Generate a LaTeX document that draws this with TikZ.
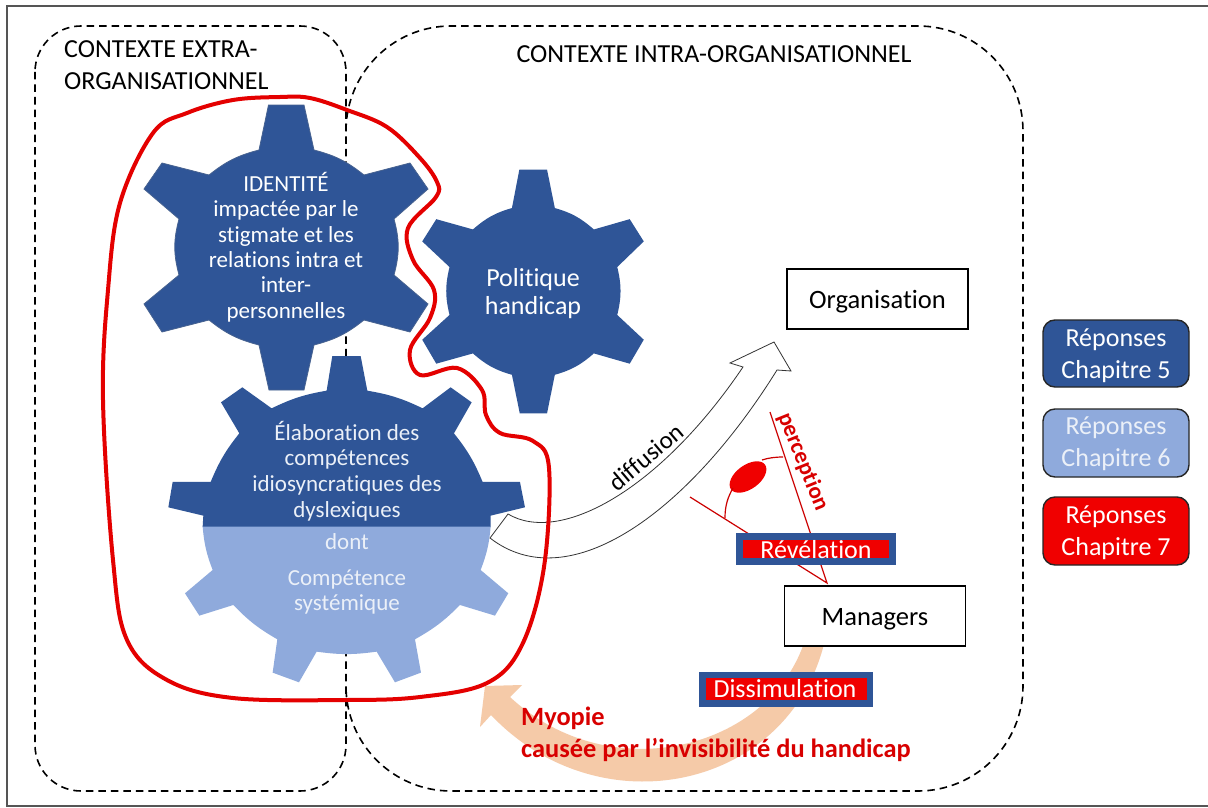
\documentclass[tikz,border=0pt]{standalone}
\usepackage{fontspec}
\setmainfont{Carlito}[Ligatures=NoCommon]
\usetikzlibrary{calc}

\definecolor{bleuFonce}{HTML}{2F5597}
\definecolor{bleuClair}{HTML}{8FAADC}
\definecolor{texteClair}{HTML}{EBF0F8}
\definecolor{peche}{HTML}{F5CAA8}
\definecolor{rouge}{HTML}{F00000}
\definecolor{cadre}{HTML}{555555}

\tikzset{
  zone/.style={draw=black,line width=1.6pt,dash pattern=on 7.5pt off 5pt},
  etiquette/.style={font=\fontsize{26}{32}\selectfont,align=center,inner sep=0pt},
  dansRoue/.style={etiquette,text=white,font=\fontsize{23}{25.4}\selectfont},
  dansRoueClair/.style={etiquette,text=texteClair,font=\fontsize{23}{25.6}\selectfont},
  boite/.style={draw=black,line width=1.8pt,minimum width=181pt,minimum height=60pt},
  titreBoite/.style={etiquette,font=\fontsize{26.5}{30}\selectfont},
  legende/.style={draw=black!85,line width=1.4pt,rounded corners=12pt,minimum width=146pt,minimum height=68pt},
  bandeau/.style={etiquette,text=white,font=\fontsize{26}{30}\selectfont},
  traitRouge/.style={draw=rouge!85!black,line width=1.2pt},
}

% roue dentee a six dents, autour de (0,0)
\newcommand{\rouedentee}{(-17.5,-142) -- (18,-142) -- (28,-97) to[bend left=12] (78,-72)
  -- (124,-84) -- (142,-58) -- (108,-28) to[bend left=15] (108,28)
  -- (142,57) -- (124,85) -- (78,73) to[bend left=12] (28,98)
  -- (18,143) -- (-17,143) -- (-27,98) to[bend left=12] (-77,73)
  -- (-124,85) -- (-142,57) -- (-107,28) to[bend left=15] (-107,-28)
  -- (-142,-58) -- (-124,-84) -- (-77,-72) to[bend left=12] (-27,-97) -- cycle}

\begin{document}
\begin{tikzpicture}[x=1pt,y=-1pt]
    \useasboundingbox (0,0) rectangle (1208,808);
    \fill[white] (0,0) rectangle (1208,808);

    % Cadre
    \draw[cadre,line width=1.3pt] (1208,6) -- (7,6) -- (7,806) -- (1208,806);

    % Contextes
    \draw[zone,rounded corners=46pt] (35,26) rectangle (346,791);
    \draw[zone,rounded corners=105pt] (346,131) -- (346,26) -- (1023,26) -- (1023,791) -- (346,791) -- (346,686);
    \node[etiquette,anchor=north west,align=left] (extra) at (64,40) {CONTEXTE EXTRA-\\ORGANISATIONNEL};
    \node[etiquette] (intra) at (714,54) {CONTEXTE INTRA-ORGANISATIONNEL};

    % Roue identite
    \begin{scope}[shift={(286,247)}]
    \fill[bleuFonce,draw=bleuFonce!70!gray,line width=.8pt] \rouedentee;
    \end{scope}
    \node[dansRoue] (identite) at (286,247) {IDENTITÉ\\impactée par le\\stigmate et les\\relations intra et\\inter-\\personnelles};

    % Roue politique
    \begin{scope}[shift={(533,291)},xscale=.78,yscale=.855]
    \fill[bleuFonce] \rouedentee;
    \end{scope}
    \node[dansRoue,font=\fontsize{26}{28}\selectfont] (politique) at (533,294) {Politique\\handicap};

    % Roue competences, en deux moities
    \begin{scope}[shift={(120,350)},x=.3333pt,y=-.3333pt]
    \fill[bleuFonce] (248,531) -- (250,497) -- (145,472) -- (158,396) -- (272,396) to[bend left=8] (358,250)
      -- (303,157) -- (367,112) -- (455,175) to[bend left=8] (620,122) -- (637,18) -- (722,18) -- (742,122)
      to[bend left=8] (908,175) -- (992,112) -- (1055,157) -- (1002,250) to[bend left=8] (1088,396)
      -- (1200,396) -- (1215,472) -- (1112,497) -- (1112,531) -- cycle;
    \fill[bleuClair] (248,530) to[bend right=8] (278,660) -- (195,730) -- (238,797) -- (340,765)
      to[bend right=8] (472,868) -- (458,968) -- (537,997) -- (590,905) to[bend right=8] (770,905)
      -- (825,997) -- (903,968) -- (885,868) to[bend right=8] (1020,765) -- (1125,797) -- (1165,730)
      -- (1082,660) to[bend right=8] (1112,530) -- cycle;
    \end{scope}
    \node[dansRoueClair] (elaboration) at (347,471) {Élaboration des\\compétences\\idiosyncratiques des\\dyslexiques};
    \node[dansRoueClair] (dont) at (347,542) {dont};
    \node[dansRoueClair] (systemique) at (347,592) {Compétence\\systémique};

    % Fleche de diffusion
    \draw[fill=white,draw=black!80,line width=.8pt] (508,514) .. controls (560,545) and (660,490) .. (743,367)
      -- (730,363) -- (774,342) -- (791,371) -- (777,370)
      .. controls (690,510) and (570,600) .. (490,538) -- cycle;
    \node[etiquette,rotate=40,font=\fontsize{25}{26}\selectfont] (diffusion) at (646,457) {diffusion};

    % Fleche de la myopie
    \fill[peche] (825,640) .. controls (790,790) and (600,830) .. (491,715) -- (480,727) -- (485,686)
      -- (522,685) -- (510,697) .. controls (610,790) and (770,750) .. (805,640) -- cycle;

    % Contour rouge
    \draw[rouge!95!black,line width=4pt] plot[smooth cycle,tension=.6] coordinates {(280,97) (310,98) (347,110) (387,127) (420,158) (437,182) (436,197)
      (408,228) (413,260) (434,290) (430,318) (410,350) (420,375) (457,368) (482,390) (486,415) (500,433) (533,441) (549,468)
      (544,567) (522,645) (487,683) (420,697) (347,700) (233,698) (167,680) (127,640) (113,560) (103,400) (108,290) (120,203) (153,133) (187,113) (233,100)};

    % Oeil
    \draw[traitRouge] (690,497) -- (827,583) -- (770,412);
    \fill[rouge,rotate around={36:(748,477)}] (748,477) ellipse (21 and 12);
    \draw[traitRouge] (725,518) .. controls (725,505) and (728,497) .. (733,488);
    \draw[traitRouge] (762,460) .. controls (768,458) and (775,457) .. (783,457);
    \node[etiquette,text=rouge!90!black,rotate=-68,font=\bfseries\fontsize{23}{26}\selectfont] (perception) at (803,462) {perception};

    % Bandeaux
    \fill[bleuFonce] (736,533) rectangle (896,565);
    \fill[rouge] (743,540) rectangle (889,558);
    \node[bandeau] (revelation) at (816,550) {Révélation};
    \fill[bleuFonce] (699,672) rectangle (873,707);
    \fill[rouge] (706,678) rectangle (867,700);
    \node[bandeau] (dissimulation) at (785,689) {Dissimulation};

    % Boites
    \node[boite,fill=white] (organisation) at (877.5,299) {};
    \node[titreBoite] (organisationTexte) at (877.5,302) {Organisation};
    \node[boite,fill=white] (managers) at (875,616) {};
    \node[titreBoite] (managersTexte) at (875,619) {Managers};

    % Texte de la myopie
    \node[etiquette,anchor=north west,align=left,text=rouge!90!black,font=\bfseries\fontsize{26.4}{32.5}\selectfont] (myopie) at (521,706.5) {Myopie\\causée par l’invisibilité du handicap};

    % Legende
    \node[legende,fill=bleuFonce,minimum height=67pt] (chap5) at (1116,353.5) {};
    \node[etiquette,text=white] (chap5Texte) at (1116,355.5) {Réponses\\Chapitre 5};
    \node[legende,fill=bleuClair] (chap6) at (1116,443) {};
    \node[etiquette,text=texteClair] (chap6Texte) at (1116,444) {Réponses\\Chapitre 6};
    \node[legende,fill=rouge] (chap7) at (1116,531) {};
    \node[etiquette,text=white] (chap7Texte) at (1116,533) {Réponses\\Chapitre 7};

\end{tikzpicture}
\end{document}
